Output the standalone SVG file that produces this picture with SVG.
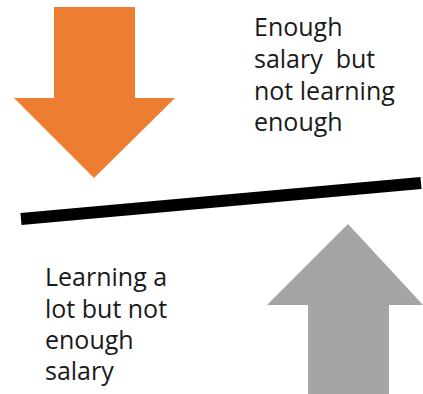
<svg xmlns="http://www.w3.org/2000/svg" width="423" height="394" viewBox="0 0 423 394">
<style>
.t{font-family:"Open Sans","Noto Sans","Liberation Sans",sans-serif;font-size:25px;fill:#1a1a1a;white-space:pre}
</style>
<rect width="423" height="394" fill="#fff"/>
<g id="down-arrow"><polygon points="54,7 135,7 135,98 175,98 94,178 14,98 54,98" fill="#ED7D31"/></g>
<g id="up-arrow"><polygon points="348,224 423,305 389,305 389,394 308,394 308,305 267,305" fill="#A5A5A5"/></g>
<g id="beam"><line x1="21" y1="219" x2="421" y2="183" stroke="#000" stroke-width="12"/></g>
<g id="label-top"><text class="t" xml:space="preserve"><tspan x="254" y="36">Enough</tspan><tspan x="254" y="68">salary  but</tspan><tspan x="254" y="100">not learning</tspan><tspan x="254" y="131">enough</tspan></text></g>
<g id="label-bottom"><text class="t"><tspan x="45" y="286">Learning a</tspan><tspan x="45" y="318">lot but not</tspan><tspan x="45" y="349">enough</tspan><tspan x="45" y="380">salary</tspan></text></g>
</svg>
